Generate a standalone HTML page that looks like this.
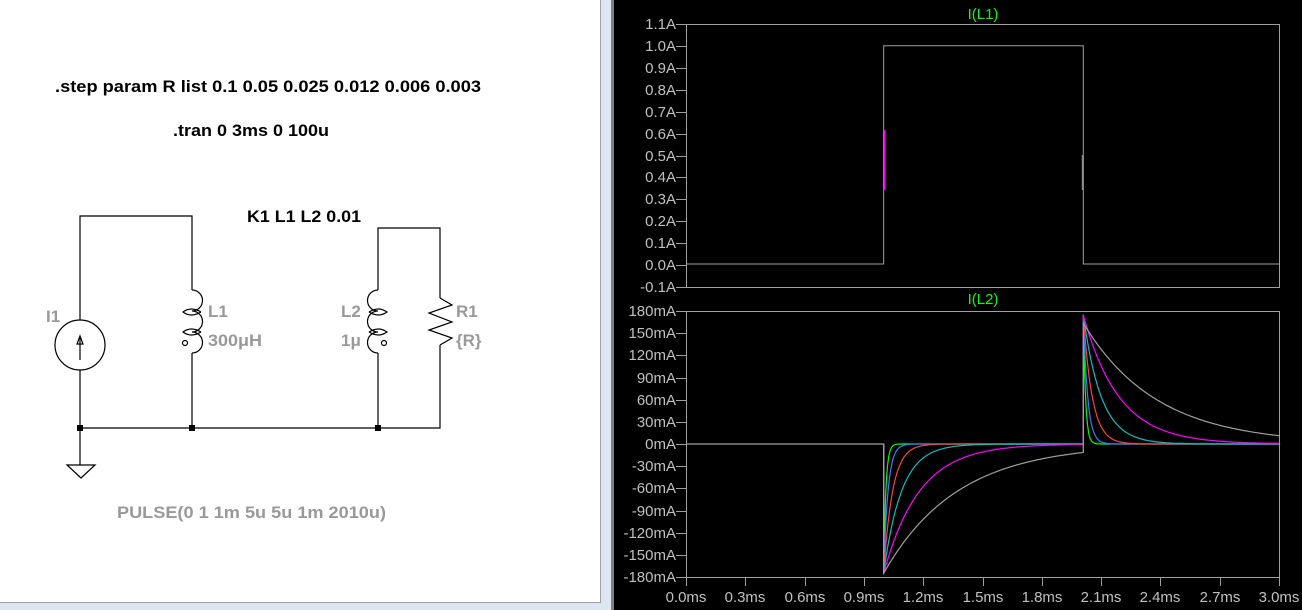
<!DOCTYPE html>
<html><head><meta charset="utf-8"><style>
html,body{margin:0;padding:0;background:#d8e4f0;}
#wrap{position:relative;width:1302px;height:610px;overflow:hidden;background:#dbe6f2;font-family:"Liberation Sans",sans-serif;}
svg{position:absolute;left:0;top:0;}
</style></head><body><div id="wrap">
<svg width="1302" height="610" viewBox="0 0 1302 610" xmlns="http://www.w3.org/2000/svg">
<rect x="0" y="0" width="600" height="602" fill="#ffffff"/>
<line x1="600.5" y1="0" x2="600.5" y2="603" stroke="#a0a0a0"/>
<line x1="0" y1="602.5" x2="600" y2="602.5" stroke="#a0a0a0"/>
<rect x="611" y="0" width="691" height="610" fill="#808080"/>
<rect x="614" y="0" width="688" height="610" fill="#000"/>
<!-- schematic -->
<g font-family="Liberation Sans, sans-serif" font-weight="bold" font-size="17" lengthAdjust="spacingAndGlyphs">
<text x="55" y="92" fill="#000" textLength="426" lengthAdjust="spacingAndGlyphs">.step param R list  0.1 0.05 0.025 0.012 0.006 0.003</text>
<text x="173" y="136" fill="#000" textLength="156" lengthAdjust="spacingAndGlyphs">.tran 0 3ms 0 100u</text>
<text x="247" y="222" fill="#000" textLength="114" lengthAdjust="spacingAndGlyphs">K1 L1 L2 0.01</text>
<g fill="#999">
<text x="46" y="322">I1</text>
<text x="208" y="317">L1</text>
<text x="208" y="346" textLength="54" lengthAdjust="spacingAndGlyphs">300μH</text>
<text x="341" y="317">L2</text>
<text x="341" y="346">1μ</text>
<text x="456" y="317">R1</text>
<text x="456" y="346">{R}</text>
<text x="117" y="518" textLength="269" lengthAdjust="spacingAndGlyphs">PULSE(0 1 1m 5u 5u 1m 2010u)</text>
</g></g>
<g stroke="#000" stroke-width="1.2" fill="none">
<polyline points="80,320 80,216 192,216 192,290"/>
<polyline points="80,370 80,465"/>
<polyline points="192,353 192,428 80,428"/>
<polyline points="192,428 440,428 440,345"/>
<polyline points="440,298 440,228 378,228 378,290"/>
<line x1="378" y1="353" x2="378" y2="428"/>
<circle cx="80" cy="345" r="25"/>
<line x1="80" y1="360" x2="80" y2="338"/>
<polygon points="77,344 80,336 83,344"/>
<polygon points="67,465 95,465 81,478"/>
<path d="M192,290 a10.5,10.5 0 0 1 0,21 a10.5,10.5 0 0 1 0,21 a10.5,10.5 0 0 1 0,21"/>
<path d="M378,290 a10.5,10.5 0 0 0 0,21 a10.5,10.5 0 0 0 0,21 a10.5,10.5 0 0 0 0,21"/>
<path d="M201,312 q-10,-6 -18,0 q8,6 18,0 M201,332 q-10,-6 -18,0 q8,6 18,0"/>
<path d="M369,312 q10,-6 18,0 q-8,6 -18,0 M369,332 q10,-6 18,0 q-8,6 -18,0"/>
<circle cx="185" cy="343" r="2.5"/>
<circle cx="384" cy="343" r="2.5"/>
<polyline points="440,298 452,305 429,313 452,322 429,330 452,338 440,345"/>
</g>
<rect x="77" y="425" width="6" height="6" fill="#000"/>
<rect x="189" y="425" width="6" height="6" fill="#000"/>
<rect x="375" y="425" width="6" height="6" fill="#000"/>
<g id="plots"></g>
</svg>
<script>
var g=document.getElementById('plots'),NS='http://www.w3.org/2000/svg';
function el(t,a,txt){var e=document.createElementNS(NS,t);for(var k in a)e.setAttribute(k,a[k]);if(txt)e.textContent=txt;g.appendChild(e);return e;}
var X0=686,X1=1279;function X(t){return X0+t/3*(X1-X0);}
function frame(top,bot){el('rect',{x:X0+.5,y:top+.5,width:X1-X0,height:bot-top,fill:'none',stroke:'#a0a0a0'});}
frame(24,287);frame(311,577);
var lab={fill:'#c0c0c0','font-size':'15','font-family':'Liberation Sans, sans-serif'};
function yl(y,s){el('line',{x1:676,y1:y+.5,x2:686,y2:y+.5,stroke:'#a0a0a0'});var a=Object.assign({x:676,y:y+5,'text-anchor':'end'},lab);el('text',a,s);}
var l1=['1.1A','1.0A','0.9A','0.8A','0.7A','0.6A','0.5A','0.4A','0.3A','0.2A','0.1A','0.0A','-0.1A'];
for(var i=0;i<13;i++)yl(Math.round(24+i*(263/12)),l1[i]);
var l2=['180mA','150mA','120mA','90mA','60mA','30mA','0mA','-30mA','-60mA','-90mA','-120mA','-150mA','-180mA'];
for(var i=0;i<13;i++)yl(Math.round(311+i*(266/12)),l2[i]);
for(var i=0;i<=10;i++){var x=Math.round(X(i*0.3));el('line',{x1:x+.5,y1:577,x2:x+.5,y2:586,stroke:'#a0a0a0'});var a=Object.assign({x:x,y:602,'text-anchor':'middle'},lab);el('text',a,(i*0.3).toFixed(1)+'ms');}
var tl={fill:'#00ff00','font-size':'15','font-family':'Liberation Sans, sans-serif','text-anchor':'middle'};
el('text',Object.assign({x:983,y:19},tl),'I(L1)');
el('text',Object.assign({x:983,y:304},tl),'I(L2)');
function Y1(v){return 264-v*218.2;}
el('polyline',{points:X0+','+Y1(0)+' '+X(1)+','+Y1(0)+' '+X(1)+','+Y1(1)+' '+X(2.01)+','+Y1(1)+' '+X(2.01)+','+Y1(0)+' '+X1+','+Y1(0),fill:'none',stroke:'#a0a0a0'});
el('line',{x1:X(1)+1,y1:130,x2:X(1)+1,y2:190,stroke:'#ff00ff','stroke-width':1.5});
el('line',{x1:X(2.01)-1,y1:155,x2:X(2.01)-1,y2:190,stroke:'#a0a0a0'});
function Y2(v){return 444-v*(266/360);}
var cs=[['#00ff00',.011],['#3080ff',.022],['#ff4040',.045],['#00c0c0',.09],['#ff00ff',.18],['#a0a0a0',.37]];
for(var c=0;c<cs.length;c++){var tau=cs[c][1],p=[];
var col=cs[c][0];
var end=0;for(var t=1;t<=2.01;t+=0.005){var v=-175*Math.exp(-(t-1)/tau);end=v;p.push(X(t).toFixed(1)+','+Y2(v).toFixed(1));}
var A=end+175;for(var t=2.01;t<=3.0001;t+=0.005){var v=A*Math.exp(-(t-2.01)/tau);p.push(X(t).toFixed(1)+','+Y2(v).toFixed(1));}
p.unshift(X(1)+','+Y2(0));
el('polyline',{points:p.join(' '),fill:'none',stroke:col,'stroke-width':1.2});}
el('polyline',{points:X0+','+Y2(0)+' '+X(1)+','+Y2(0)+' '+X(1)+','+Y2(-175),fill:'none',stroke:'#a0a0a0','stroke-width':1.2});
</script>
</div></body></html>
